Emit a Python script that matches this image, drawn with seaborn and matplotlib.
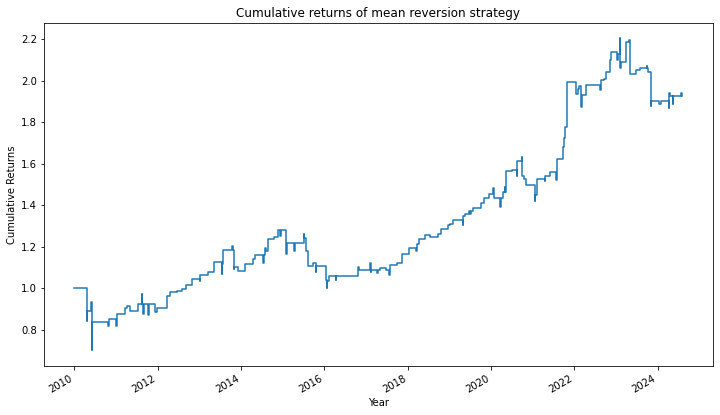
"""Cumulative returns of a mean reversion strategy, redrawn from a reference chart."""

import matplotlib

matplotlib.use("Agg")

import matplotlib.dates as mdates
import matplotlib.pyplot as plt
import pandas as pd
import seaborn as sns

# Step points of the equity curve (date the value starts, cumulative return)
DATES = [
    "2010-01-01", "2010-04-20", "2010-04-24", "2010-05-30", "2010-06-02", "2010-06-05",
    "2010-10-24", "2010-10-28", "2011-01-03", "2011-01-07", "2011-03-21", "2011-04-05",
    "2011-05-04", "2011-07-15", "2011-08-14", "2011-08-18", "2011-08-28", "2011-09-01",
    "2011-10-12", "2011-10-16", "2011-12-10", "2011-12-25", "2012-03-20", "2012-04-15",
    "2012-06-18", "2012-08-01", "2012-09-07", "2012-10-27", "2013-01-06", "2013-01-10",
    "2013-03-15", "2013-05-12", "2013-07-15", "2013-07-19", "2013-07-28", "2013-10-17",
    "2013-10-21", "2013-11-01", "2013-11-05", "2013-12-10", "2014-02-06", "2014-04-03",
    "2014-04-20", "2014-05-05", "2014-07-15", "2014-07-19", "2014-08-01", "2014-08-05",
    "2014-08-28", "2014-10-18", "2014-11-25", "2014-12-10", "2014-12-14", "2015-02-01",
    "2015-02-05", "2015-04-13", "2015-04-17", "2015-07-06", "2015-07-10", "2015-07-28",
    "2015-08-09", "2015-09-27", "2015-10-20", "2015-10-24", "2016-01-15", "2016-01-25",
    "2016-01-29", "2016-02-15", "2016-04-12", "2016-04-16", "2016-10-25", "2016-10-29",
    "2017-02-06", "2017-02-10", "2017-02-14", "2017-04-10", "2017-04-14", "2017-05-01",
    "2017-06-25", "2017-07-20", "2017-07-28", "2017-09-27", "2017-11-09", "2018-01-15",
    "2018-03-18", "2018-03-22", "2018-04-10", "2018-05-31", "2018-07-15", "2018-09-25",
    "2018-10-20", "2018-12-22", "2019-01-06", "2019-02-05", "2019-05-01", "2019-05-05",
    "2019-05-20", "2019-06-24", "2019-07-06", "2019-07-10", "2019-07-30", "2019-10-10",
    "2019-10-30", "2019-12-16", "2020-01-21", "2020-01-25", "2020-03-24", "2020-03-28",
    "2020-04-18", "2020-04-30", "2020-05-04", "2020-05-09", "2020-07-01", "2020-08-13",
    "2020-08-17", "2020-09-27", "2020-10-01", "2020-10-15", "2020-11-04", "2021-01-18",
    "2021-01-25", "2021-02-06", "2021-04-18", "2021-04-22", "2021-05-30", "2021-07-21",
    "2021-08-05", "2021-09-25", "2021-10-05", "2021-10-15", "2021-11-01", "2022-01-15",
    "2022-02-01", "2022-02-15", "2022-03-04", "2022-03-08", "2022-04-13", "2022-08-18",
    "2022-08-22", "2022-09-15", "2022-10-03", "2022-11-08", "2022-11-20", "2023-01-12",
    "2023-01-16", "2023-02-04", "2023-02-08", "2023-02-12", "2023-04-03", "2023-04-30",
    "2023-05-07", "2023-06-22", "2023-07-28", "2023-10-01", "2023-10-05", "2023-10-09",
    "2023-11-01", "2023-11-05", "2024-01-18", "2024-01-28", "2024-04-10", "2024-04-14",
    "2024-04-20", "2024-05-15", "2024-05-19", "2024-07-26", "2024-07-30", "2024-08-06",
]

RETURNS = [
    1.000, 0.840, 0.892, 0.935, 0.700, 0.838,
    0.820, 0.853, 0.820, 0.876, 0.905, 0.916,
    0.892, 0.924, 0.970, 0.922, 0.874, 0.922,
    0.870, 0.922, 0.884, 0.905, 0.961, 0.982,
    0.989, 0.997, 1.018, 1.045, 1.035, 1.066,
    1.079, 1.126, 1.069, 1.115, 1.183, 1.203,
    1.183, 1.095, 1.102, 1.082, 1.118, 1.118,
    1.139, 1.160, 1.123, 1.160, 1.195, 1.179,
    1.236, 1.247, 1.280, 1.250, 1.280, 1.166,
    1.220, 1.180, 1.220, 1.260, 1.241, 1.179,
    1.107, 1.123, 1.079, 1.107, 1.042, 1.001,
    1.037, 1.060, 1.042, 1.060, 1.102, 1.090,
    1.121, 1.079, 1.086, 1.075, 1.086, 1.098,
    1.090, 1.063, 1.111, 1.121, 1.166, 1.195,
    1.180, 1.215, 1.236, 1.257, 1.249, 1.260,
    1.284, 1.305, 1.309, 1.328, 1.305, 1.349,
    1.357, 1.373, 1.357, 1.373, 1.389, 1.413,
    1.435, 1.454, 1.483, 1.435, 1.392, 1.435,
    1.462, 1.489, 1.462, 1.567, 1.570, 1.543,
    1.612, 1.635, 1.543, 1.527, 1.499, 1.421,
    1.450, 1.527, 1.515, 1.543, 1.563, 1.522,
    1.623, 1.680, 1.725, 1.777, 1.995, 1.938,
    1.963, 1.974, 1.874, 1.930, 1.979, 1.955,
    2.003, 2.011, 2.043, 2.100, 2.140, 2.100,
    2.132, 2.205, 2.060, 2.092, 2.188, 2.197,
    2.035, 2.051, 2.060, 2.070, 2.060, 2.043,
    1.877, 1.903, 1.890, 1.903, 1.871, 1.941,
    1.925, 1.890, 1.925, 1.941, 1.925, 1.925,
]


def main() -> None:
    df = pd.DataFrame({"date": pd.to_datetime(DATES), "cumulative": RETURNS})

    # 10 x 5.76 inches at 72 dpi gives the 720 x 415 canvas with default text sizes
    fig, ax = plt.subplots(figsize=(10, 415 / 72), dpi=72)
    sns.lineplot(data=df, x="date", y="cumulative", ax=ax, color="#1f77b4",
                 linewidth=1.5, drawstyle="steps-post")

    ax.set_title("Cumulative returns of mean reversion strategy")
    ax.set_xlabel("Year")
    ax.set_ylabel("Cumulative Returns")
    ax.xaxis.set_major_locator(mdates.YearLocator(2))
    ax.xaxis.set_major_formatter(mdates.DateFormatter("%Y"))

    fig.autofmt_xdate()
    fig.subplots_adjust(left=0.061, right=0.99, top=0.945, bottom=0.118)
    fig.savefig("out.png", dpi=72)
    plt.close(fig)


if __name__ == "__main__":
    main()
